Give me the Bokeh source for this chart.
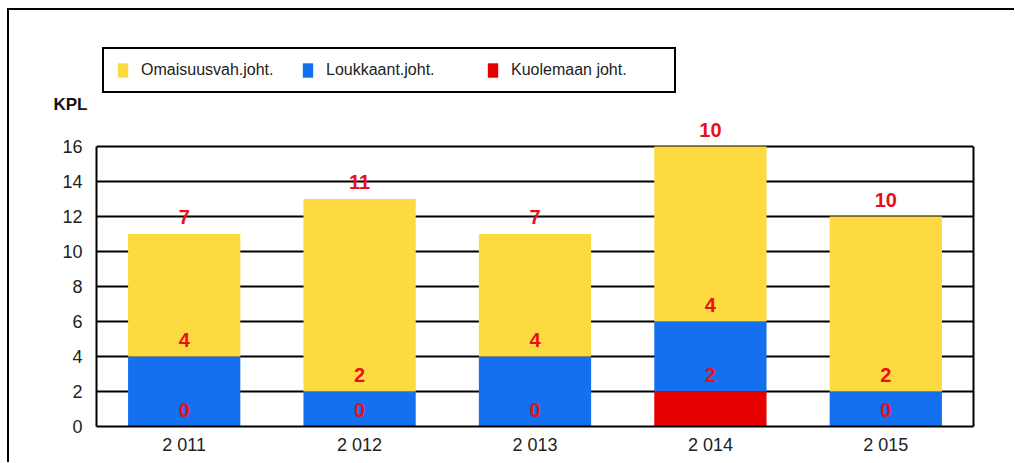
from bokeh.plotting import figure
from bokeh.layouts import column
from bokeh.models import (Range1d, FixedTicker, Legend, LegendItem,
                          ColumnDataSource, LabelSet, LinearAxis)
from bokeh.core.properties import value
from bokeh.embed import file_html
from bokeh.resources import INLINE

# ---- data ----
years = ["2 011", "2 012", "2 013", "2 014", "2 015"]
kuolemaan = [0, 0, 0, 2, 0]          # red, bottom
loukkaant = [4, 2, 4, 4, 2]          # blue, middle
omaisuusvah = [7, 11, 7, 10, 10]     # yellow, top
y_ticks = [0, 2, 4, 6, 8, 10, 12, 14, 16]
series_names = ["Kuolemaan joht.", "Loukkaant.joht.", "Omaisuusvah.joht."]
colors = ["#E60000", "#1570EF", "#FDDA40"]
y_label = "KPL"

FONT = "Liberation Sans"
Y_MAX = 16
W = 1005

# ---------------- header (legend + KPL) ----------------
hdr = figure(width=W, height=104, x_range=Range1d(0, 1),
             y_range=Range1d(0, 1), x_axis_type=None, y_axis_type=None,
             output_backend="svg", toolbar_location=None,
             title=y_label, title_location="below",
             min_border_left=0, min_border_right=0, min_border_top=0,
             min_border_bottom=0)
hdr.grid.visible = False
hdr.outline_line_color = None
hdr.title.align = "left"
hdr.title.offset = -43
hdr.title.standoff = 0
hdr.title.vertical_align = "middle"
hdr.title.text_font = FONT
hdr.title.text_font_size = "17px"
hdr.title.text_font_style = "bold"
hdr.title.text_color = "#111111"

# zero-size proxy renderers that only provide the legend swatches
proxies = [hdr.vbar(x=[0], top=[0], width=0, color=c, line_width=0)
           for c in colors]
items = [LegendItem(label=series_names[2], renderers=[proxies[2]]),
         LegendItem(label=series_names[1], renderers=[proxies[1]]),
         LegendItem(label=series_names[0], renderers=[proxies[0]])]
leg = Legend(items=items, location=(6, 0), orientation="horizontal",
             padding=12, spacing=9, glyph_width=13, glyph_height=18,
             label_standoff=12, label_width=151, label_height=18,
             label_text_font=FONT, label_text_font_size="16px",
             label_text_color="#222222", border_line_color="black",
             border_line_alpha=1.0, border_line_width=2,
             background_fill_color="white", background_fill_alpha=1.0,
             margin=0)
hdr.add_layout(leg)

# ---------------- main chart ----------------
data = dict(years=years, kuol=kuolemaan, louk=loukkaant, omai=omaisuusvah)
src = ColumnDataSource(data)

p = figure(x_range=years, y_range=Range1d(0, 17.83), width=W, height=348,
           output_backend="svg", toolbar_location=None,
           min_border_left=87, min_border_top=0, min_border_right=W - 964,
           min_border_bottom=36)
p.x_range.range_padding = 0

rs = p.vbar_stack(["kuol", "louk", "omai"], x="years", width=0.64,
                  color=colors, line_width=0, source=src)

# value labels placed just above each segment top
lab_x, lab_y, lab_t = [], [], []
for i, yr in enumerate(years):
    r = kuolemaan[i]
    b = loukkaant[i]
    o = omaisuusvah[i]
    lab_x += [yr, yr, yr]
    lab_y += [r, r + b, r + b + o]
    lab_t += [str(r), str(b), str(o)]
lsrc = ColumnDataSource(dict(x=lab_x, y=lab_y, t=lab_t))
ls = LabelSet(x="x", y="y", text="t", source=lsrc, text_align="center",
              text_baseline="middle", y_offset=17, text_color="#E8101A",
              text_font=value(FONT), text_font_size="20px",
              text_font_style="bold")
p.add_layout(ls)

# axes & grid
p.yaxis.ticker = FixedTicker(ticks=y_ticks)
p.yaxis.bounds = (0, Y_MAX)
p.yaxis.major_tick_line_color = None
p.yaxis.minor_tick_line_color = None
p.yaxis.axis_line_color = "black"
p.yaxis.axis_line_width = 2
p.yaxis.major_label_standoff = 8
p.yaxis.major_label_text_font = FONT
p.yaxis.major_label_text_font_size = "18px"
p.yaxis.major_label_text_color = "#222222"

right = LinearAxis(ticker=FixedTicker(ticks=[]), bounds=(0, Y_MAX),
                   axis_line_color="black", axis_line_width=2,
                   major_tick_line_color=None, minor_tick_line_color=None,
                   major_label_text_font_size="0px")
p.add_layout(right, "right")

p.xaxis.major_tick_line_color = None
p.xaxis.axis_line_color = "black"
p.xaxis.axis_line_width = 2
p.xaxis.major_label_standoff = 2
p.xaxis.major_label_text_font = FONT
p.xaxis.major_label_text_font_size = "18px"
p.xaxis.major_label_text_color = "#222222"

p.xgrid.grid_line_color = None
p.ygrid.ticker = FixedTicker(ticks=y_ticks)
p.ygrid.grid_line_color = "black"
p.ygrid.grid_line_width = 1.8
p.outline_line_color = None

layout = column(hdr, p, spacing=0,
                styles={"margin-left": "7px", "margin-top": "8px",
                        "border-top": "2px solid black",
                        "border-left": "2px solid black"})

open("out.html", "w").write(file_html(layout, INLINE))
